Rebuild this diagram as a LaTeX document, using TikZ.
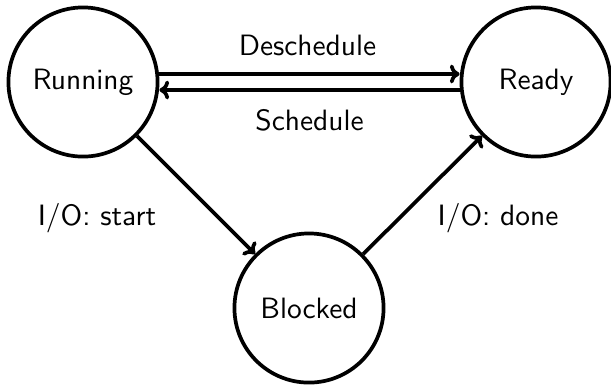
\documentclass[tikz,border=0pt]{standalone}
\usetikzlibrary{arrows.meta}
\begin{document}
\begin{tikzpicture}[x=0.35pt,y=-0.35pt,
  txt/.style={font=\fontsize{10.3}{12}\sffamily},
  state/.style={circle,draw,line width=1.3pt,minimum size=52.2pt,inner sep=0pt,txt},
  trans/.style={-{To[length=3.4pt,width=6.6pt,line width=1.3pt]},line width=1.3pt},
  lbl/.style={anchor=base,txt,inner sep=0pt}]
\useasboundingbox (0,0) rectangle (611,387);
% process states
\node[state] (run) at (83,82) {Running};
\node[state] (rdy) at (536,82) {Ready};
\node[state] (blk) at (309,308) {Blocked};
% transitions
\draw[trans] ([yshift=2.8pt]run.east) -- ([yshift=2.8pt]rdy.west);
\draw[trans] ([yshift=-2.8pt]rdy.west) -- ([yshift=-2.8pt]run.east);
\draw[trans] (run) -- (blk);
\draw[trans] (blk) -- (rdy);
% transition labels
\node[lbl] (ldes) at (307.5,55) {Deschedule};
\node[lbl] (lsch) at (309.5,130) {Schedule};
\node[lbl] (lstart) at (97,225) {I/O: start};
\node[lbl] (ldone) at (498,225) {I/O: done};
\end{tikzpicture}
\end{document}
